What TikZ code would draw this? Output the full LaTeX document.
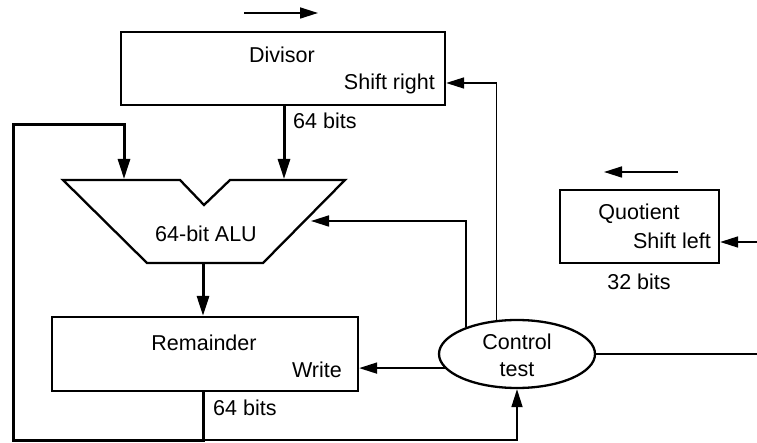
\documentclass[tikz,border=0pt]{standalone}
\usepackage{fontspec}
\setmainfont{Liberation Sans}
\usetikzlibrary{arrows.meta,shapes.geometric}
\begin{document}
\begin{tikzpicture}[x=1pt,y=-1pt,
  every node/.style={font=\fontsize{21.5}{24}\selectfont, inner sep=0pt},
  reg/.style={draw, line width=2.3pt, rectangle},
  thickline/.style={line width=3pt},
  thinline/.style={line width=1.7pt},
  tip/.style={-{Triangle[length=18pt,width=11pt]}},
  ttip/.style={-{Triangle[length=20pt,width=12pt]}},
  lbl/.style={anchor=base}]
\useasboundingbox (0,0) rectangle (757,443);

% registers
\node[reg, minimum width=324pt, minimum height=73pt] (div) at (283,68.5) {};
\node[reg, minimum width=306pt, minimum height=74pt] (rem) at (205,354) {};
\node[reg, minimum width=159pt, minimum height=73pt] (quo) at (639.5,226.5) {};
\node[draw, line width=2.3pt, ellipse, minimum width=156pt, minimum height=68pt] (ctl) at (517,354) {};

% texts
\node[lbl] (tdiv) at (282,63) {Divisor};
\node[lbl, anchor=base east] (tshr) at (435,90) {Shift right};
\node[lbl] (trem) at (204,350) {Remainder};
\node[lbl, anchor=base east] (twr) at (342,377) {Write};
\node[lbl] (tquo) at (639,220) {Quotient};
\node[lbl, anchor=base east] (tshl) at (711,249) {Shift left};
\node[lbl] (tctl1) at (517,349) {Control};
\node[lbl] (tctl2) at (517,376) {test};
\node[lbl, anchor=base west] (b1) at (293,129) {64 bits};
\node[lbl, anchor=base west] (b2) at (213,415) {64 bits};
\node[lbl] (b3) at (639,290) {32 bits};
\node[lbl] (talu) at (206,242) {64-bit ALU};

% ALU shape
\coordinate (a1) at (63,180);
\coordinate (a2) at (180,180);
\coordinate (a3) at (204,205);
\coordinate (a4) at (230,180);
\coordinate (a5) at (345,180);
\coordinate (a6) at (263,263);
\coordinate (a7) at (147,263);
\draw[line width=2.3pt, line join=miter] (a1) -- (a2) -- (a3) -- (a4) -- (a5) -- (a6) -- (a7) -- cycle;
\coordinate (ainL) at (124,179);
\coordinate (ainR) at (284,179);
\coordinate (aout) at (203,263);
\coordinate (aside) at (311,221);

% direction arrows
\coordinate (r1) at (244,13);
\coordinate (r2) at (318,13);
\draw[thinline, tip] (r1) -- (r2);
\coordinate (l1) at (678,172);
\coordinate (l2) at (604,172);
\draw[thinline, tip] (l1) -- (l2);

% data paths
\draw[thickline, ttip] (div.south -| ainR) -- (ainR);
\draw[thickline, ttip] (aout) -- (rem.north -| aout);
\coordinate (fb1) at (13,440);
\coordinate (fb2) at (13,125);
\coordinate (fb3) at (124,125);
\coordinate (bot) at (203,440);
\draw[thickline, line join=miter, ttip] (rem.south -| bot) -- (bot) -- (fb1) -- (fb2) -- (fb3) -- (ainL);
\coordinate (cb) at (517,440);
\draw[thinline, tip] (bot) -- (cb) -- (ctl.south);

% control paths
\coordinate (c1) at (497,83);
\draw[thinline, tip] (ctl.121.3) -- (ctl.121.3 |- c1) -- (div.east |- c1);
\coordinate (c2) at (467,221);
\draw[thinline, tip] (ctl.152.5) -- (ctl.152.5 |- aside) -- (aside);
\draw[thinline, tip] (ctl.191.2) -- (rem.east |- ctl.191.2);
\coordinate (qr) at (757,242);
\draw[thinline, tip] (qr) -- (quo.east |- qr);
\coordinate (cr) at (757,354);
\draw[thinline] (ctl.east) -- (cr);
\end{tikzpicture}
\end{document}
